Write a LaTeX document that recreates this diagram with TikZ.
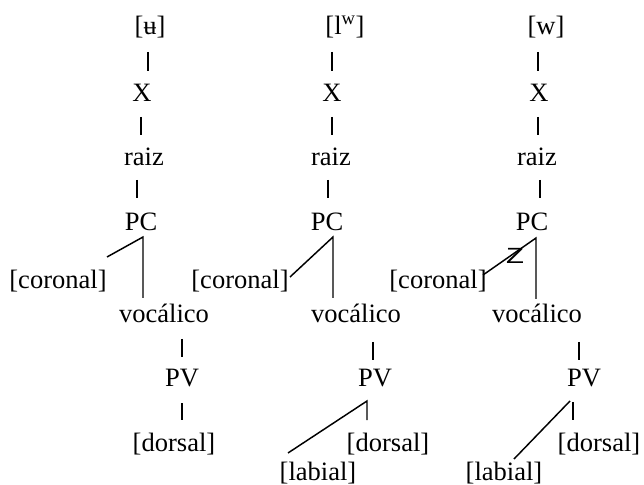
\documentclass[tikz,border=0pt]{standalone}
\usepackage{fontspec}
\setmainfont{Liberation Serif}
\newfontfamily\zfont{Liberation Sans}
\begin{document}
\begin{tikzpicture}[x=0.75pt,y=-0.75pt,
  lbl/.style={font=\fontsize{19.9}{24}\selectfont, inner sep=0pt, anchor=base},
  conn/.style={line width=1.1pt, line cap=butt}]
\useasboundingbox (0,0) rectangle (644,485);

% ---------- tree 1 ----------
\node[lbl] (u1) at (150,35) {[ʉ]};
\node[lbl] (x1) at (142,102) {X};
\node[lbl] (r1) at (144,166) {raiz};
\node[lbl] (pc1) at (141,231) {PC};
\node[lbl] (co1) at (58,289) {[coronal]};
\node[lbl] (vo1) at (164,322) {vocálico};
\node[lbl] (pv1) at (182,387) {PV};
\node[lbl] (do1) at (174,451) {[dorsal]};
\coordinate (a1t) at (148,52);  \coordinate (a1b) at (148,71);
\coordinate (b1t) at (141,117); \coordinate (b1b) at (141,135);
\coordinate (c1t) at (137,180); \coordinate (c1b) at (137,198);
\coordinate (pc1a) at (143,237); \coordinate (co1e) at (107,257); \coordinate (vo1e) at (143,298);
\coordinate (d1t) at (182,339); \coordinate (d1b) at (182,357);
\coordinate (e1t) at (182,403); \coordinate (e1b) at (182,420);
\draw[conn] (a1t) -- (a1b);
\draw[conn] (b1t) -- (b1b);
\draw[conn] (c1t) -- (c1b);
\draw[conn] (co1e) -- (pc1a) -- (vo1e);
\draw[conn] (d1t) -- (d1b);
\draw[conn] (e1t) -- (e1b);

% ---------- tree 2 ----------
\node[lbl] (u2) at (345,35) {[l\textsuperscript{w}]};
\node[lbl] (x2) at (332,102) {X};
\node[lbl] (r2) at (331,166) {raiz};
\node[lbl] (pc2) at (327,231) {PC};
\node[lbl] (co2) at (240,289) {[coronal]};
\node[lbl] (vo2) at (356,322) {vocálico};
\node[lbl] (pv2) at (375,387) {PV};
\node[lbl] (do2) at (388,451) {[dorsal]};
\node[lbl] (la2) at (318,480) {[labial]};
\coordinate (a2t) at (332,52);  \coordinate (a2b) at (332,71);
\coordinate (b2t) at (332,117); \coordinate (b2b) at (332,135);
\coordinate (c2t) at (328,180); \coordinate (c2b) at (328,198);
\coordinate (pc2a) at (333,237); \coordinate (co2e) at (290,277); \coordinate (vo2e) at (333,298);
\coordinate (d2t) at (373,342); \coordinate (d2b) at (373,360);
\coordinate (pv2a) at (367,401); \coordinate (la2e) at (288,453); \coordinate (do2e) at (367,420);
\draw[conn] (a2t) -- (a2b);
\draw[conn] (b2t) -- (b2b);
\draw[conn] (c2t) -- (c2b);
\draw[conn] (co2e) -- (pc2a) -- (vo2e);
\draw[conn] (d2t) -- (d2b);
\draw[conn] (la2e) -- (pv2a) -- (do2e);

% ---------- tree 3 ----------
\node[lbl] (u3) at (546,35) {[w]};
\node[lbl] (x3) at (539,102) {X};
\node[lbl] (r3) at (537,166) {raiz};
\node[lbl] (pc3) at (532,231) {PC};
\node[lbl] (co3) at (438,289) {[coronal]};
\node[lbl] (vo3) at (537,322) {vocálico};
\node[lbl] (pv3) at (584,387) {PV};
\node[lbl] (do3) at (599,451) {[dorsal]};
\node[lbl] (la3) at (504,480) {[labial]};
\node[font=\zfont\fontsize{22}{22}\selectfont, inner sep=0pt, anchor=center] (z3) at (515,256) {\scalebox{1}[0.75]{Z}};
\coordinate (a3t) at (538,52);  \coordinate (a3b) at (538,71);
\coordinate (b3t) at (538,117); \coordinate (b3b) at (538,135);
\coordinate (c3t) at (540,180); \coordinate (c3b) at (540,198);
\coordinate (pc3a) at (536,238); \coordinate (co3e) at (483,275); \coordinate (vo3e) at (536,299);
\coordinate (d3t) at (579,342); \coordinate (d3b) at (579,360);
\coordinate (pv3a) at (570,401); \coordinate (la3e) at (514,459);
\coordinate (pv3b) at (573,402); \coordinate (do3e) at (573,420);
\draw[conn] (a3t) -- (a3b);
\draw[conn] (b3t) -- (b3b);
\draw[conn] (c3t) -- (c3b);
\draw[conn] (co3e) -- (pc3a) -- (vo3e);
\draw[conn] (d3t) -- (d3b);
\draw[conn] (la3e) -- (pv3a);
\draw[conn] (pv3b) -- (do3e);
\end{tikzpicture}
\end{document}
